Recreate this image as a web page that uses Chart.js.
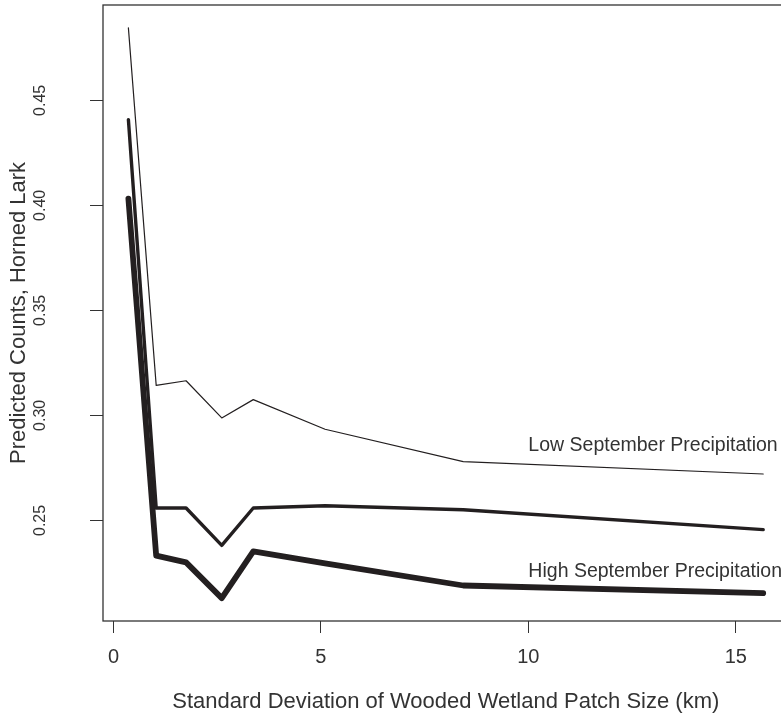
<!DOCTYPE html>
<html>
<head>
<meta charset="utf-8">
<script src="https://cdn.jsdelivr.net/npm/chart.js@4.4.1/dist/chart.umd.min.js"></script>
<style>
    html, body { margin: 0; padding: 0; background: #fff; overflow: hidden; }
    #graf_alondra { display: block; }
</style>
</head>
<body>
<canvas id="graf_alondra" width="792" height="715"></canvas>
<script>
// valores de la grafica
const desvEstandar = [0.36, 1.03, 1.75, 2.61, 3.37, 5.10, 8.43, 15.66];
const precipBaja = [0.4845, 0.3143, 0.3165, 0.2988, 0.3075, 0.2934, 0.2780, 0.2721];
const precipMedia = [0.4408, 0.2559, 0.2559, 0.2381, 0.2559, 0.2570, 0.2551, 0.2456];
const precipAlta = [0.4032, 0.2332, 0.2300, 0.2130, 0.2352, 0.2295, 0.2190, 0.2154];

const ticksX = [0, 5, 10, 15];
const ticksY = [0.25, 0.30, 0.35, 0.40, 0.45];

// etiquetas dentro del grafico
const etiquetasTexto = ['Low September Precipitation', 'High September Precipitation'];
const etiquetasX = [10, 10];
const etiquetasY = [0.2854, 0.2256];

const tinta = '#231f20';
const gris = '#333333';
Chart.defaults.font.family = "'Liberation Sans', Arial, sans-serif";
Chart.defaults.color = gris;

function puntos(serie) {
    return desvEstandar.map((x, i) => ({ x: x, y: serie[i] }));
}

// marco completo alrededor del area del grafico
const marco = {
    id: 'marco',
    afterDatasetsDraw(chart) {
        const { ctx, chartArea: a } = chart;
        ctx.save();
        ctx.strokeStyle = gris;
        ctx.lineWidth = 1.3;
        ctx.strokeRect(a.left, a.top, a.right - a.left, a.bottom - a.top);
        ctx.restore();
    }
};

// texto de precipitacion en coordenadas de datos
const etiquetas = {
    id: 'etiquetas',
    afterDatasetsDraw(chart) {
        const { ctx, scales } = chart;
        ctx.save();
        ctx.fillStyle = gris;
        ctx.font = "19.5px 'Liberation Sans', Arial, sans-serif";
        ctx.textAlign = 'left';
        ctx.textBaseline = 'middle';
        etiquetasTexto.forEach((t, i) => {
            ctx.fillText(t, scales.x.getPixelForValue(etiquetasX[i]), scales.y.getPixelForValue(etiquetasY[i]));
        });
        ctx.restore();
    }
};

const ctx = document.getElementById('graf_alondra').getContext('2d');
const config = {
    type: 'line',
    data: {
        datasets: [{
            label: 'Low',
            data: puntos(precipBaja),
            borderColor: tinta,
            borderWidth: 1.2
        },
        {
            label: 'Mid',
            data: puntos(precipMedia),
            borderColor: tinta,
            borderWidth: 3.4
        },
        {
            label: 'High',
            data: puntos(precipAlta),
            borderColor: tinta,
            borderWidth: 5.8
        }]
    },
    options: {
        responsive: false,
        animation: false,
        layout: {
            padding: { top: 5, right: 3.4, left: 0, bottom: 0 }
        },
        elements: {
            point: { radius: 0 },
            line: {
                tension: 0,
                fill: false,
                borderCapStyle: 'round',
                borderJoinStyle: 'round'
            }
        },
        scales: {
            x: {
                type: 'linear',
                position: 'bottom',
                min: -0.252,
                max: 16.272,
                afterFit: (s) => {
                    s.height = 94;
                    s.paddingLeft = 0;
                    s.paddingRight = 0;
                },
                afterBuildTicks: (s) => { s.ticks = ticksX.map(v => ({ value: v })); },
                grid: {
                    drawOnChartArea: false,
                    drawTicks: true,
                    tickLength: 12,
                    color: gris,
                    lineWidth: 1
                },
                border: { display: false },
                ticks: {
                    autoSkip: false,
                    maxRotation: 0,
                    padding: 12,
                    color: gris,
                    font: { size: 20 }
                },
                title: {
                    display: true,
                    text: 'Standard Deviation of Wooded Wetland Patch Size (km)',
                    color: gris,
                    padding: 0,
                    font: { size: 22, lineHeight: 1.2 }
                }
            },
            y: {
                type: 'linear',
                min: 0.2021,
                max: 0.4954,
                // ancho fijo y sin relleno extra arriba/abajo por las etiquetas giradas
                afterFit: (s) => {
                    s.width = 103;
                    s.paddingTop = 0;
                    s.paddingBottom = 0;
                },
                afterBuildTicks: (s) => { s.ticks = ticksY.map(v => ({ value: v })); },
                grid: {
                    drawOnChartArea: false,
                    drawTicks: true,
                    tickLength: 13,
                    color: gris,
                    lineWidth: 1
                },
                border: { display: false },
                ticks: {
                    autoSkip: false,
                    minRotation: 90,
                    maxRotation: 90,
                    crossAlign: 'center',
                    padding: 34,
                    color: gris,
                    font: { size: 16 },
                    callback: (v) => Number(v).toFixed(2)
                },
                title: {
                    display: true,
                    text: 'Predicted Counts, Horned Lark',
                    color: gris,
                    padding: { top: 6, bottom: 0 },
                    font: { size: 22, lineHeight: 1.2 }
                }
            }
        },
        plugins: {
            legend: { display: false },
            tooltip: { enabled: false }
        }
    },
    plugins: [marco, etiquetas]
};
const grafica_alondra = new Chart(ctx, config);
</script>
</body>
</html>
